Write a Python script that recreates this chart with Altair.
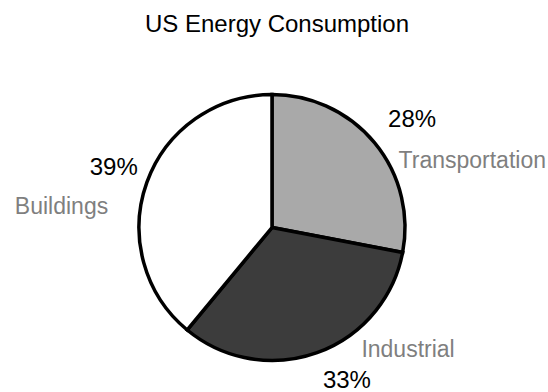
import math
import altair as alt
import pandas as pd

categories = ["Transportation", "Industrial", "Buildings"]
shares = [28, 33, 39]
pct_labels = ["28%", "33%", "39%"]
fills = ["#a9a9a9", "#3c3c3c", "#ffffff"]
order = [0, 1, 2]

df = pd.DataFrame({"category": categories, "share": shares, "pct": pct_labels, "order": order})

theta_scale = alt.Scale(domain=[0, 100], range=[0, 2 * math.pi])

base = alt.Chart(df).transform_window(
    cum="sum(share)", sort=[alt.SortField("order")], frame=[None, 0]
).transform_calculate(
    start="datum.cum - datum.share", mid="datum.cum - datum.share / 2"
)

arcs = base.mark_arc(radius=133, stroke="black", strokeWidth=3.5).encode(
    theta=alt.Theta("start:Q", scale=theta_scale, stack=None),
    theta2="cum:Q",
    color=alt.Color("category:N", scale=alt.Scale(domain=categories, range=fills), legend=None),
)


def label(cat, field, r, dx, dy, size, color):
    return base.transform_filter(alt.datum.category == cat).mark_text(
        radius=r, dx=dx, dy=dy, fontSize=size, font="Liberation Sans",
        color=color, align="center", baseline="alphabetic",
    ).encode(
        theta=alt.Theta("mid:Q", scale=theta_scale, stack=None),
        text=alt.Text(f"{field}:N"),
    )


GRAY = "#7f7f7f"
layers = [
    arcs,
    label("Transportation", "pct", 165, 13, 5, 24, "black"),
    label("Industrial", "pct", 165, 19, 5, 24, "black"),
    label("Buildings", "pct", 165, -3, 3, 24, "black"),
    label("Transportation", "category", 195, 50, 65, 23, GRAY),
    label("Industrial", "category", 195, 70, -54, 23, GRAY),
    label("Buildings", "category", 195, -27, 53, 23, GRAY),
]

chart = alt.layer(*layers).properties(
    width=544,
    height=329,
    title=alt.TitleParams(
        text="US Energy Consumption", font="Liberation Sans", fontSize=24,
        fontWeight="normal", color="black", anchor="middle",
        baseline="alphabetic", offset=7, dx=5, frame="group",
    ),
    autosize=alt.AutoSizeParams(type="none"),
    padding={"left": 0, "top": 63, "right": 4, "bottom": 0},
).configure_view(stroke=None)

chart.save("out.html", embed_options={"renderer": "svg", "actions": False})
